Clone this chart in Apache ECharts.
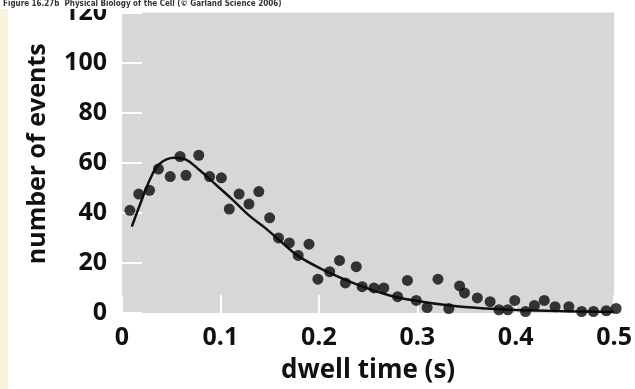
<!DOCTYPE html>
<html>
<head>
<meta charset="utf-8">
<script src="https://cdn.jsdelivr.net/npm/echarts@6/dist/echarts.min.js"></script>
<style>
  html, body { margin: 0; padding: 0; background: #ffffff; }
  #chart { width: 635px; height: 389px; }
</style>
</head>
<body>
<div id="chart"></div>
<script>
// Histogram of dwell times (bin centres, s) and counts per bin
const dwellTimes = [0.008, 0.017, 0.028, 0.037, 0.049, 0.059, 0.065, 0.078, 0.089, 0.101,
  0.109, 0.119, 0.129, 0.139, 0.150, 0.159, 0.170, 0.179, 0.190, 0.199,
  0.211, 0.221, 0.227, 0.238, 0.244, 0.256, 0.266, 0.280, 0.290, 0.299,
  0.310, 0.321, 0.332, 0.343, 0.348, 0.361, 0.374, 0.383, 0.392, 0.399,
  0.410, 0.419, 0.429, 0.440, 0.454, 0.467, 0.479, 0.492, 0.502];
const eventCounts = [41, 47.5, 49, 57.5, 54.5, 62.5, 55, 63, 54.5, 54,
  41.5, 47.5, 43.5, 48.5, 38, 30, 28, 23, 27.5, 13.5,
  16.5, 21, 12, 18.5, 10.5, 10, 10, 6.5, 13, 5,
  2.2, 13.5, 1.8, 10.8, 8, 6, 4.5, 1.3, 1.3, 5,
  0.6, 3, 5, 2.5, 2.5, 0.6, 0.6, 0.9, 1.8];

// Fitted curve through the histogram
const fitTimes = [0.010, 0.018, 0.028, 0.038, 0.053, 0.065, 0.079, 0.096, 0.113, 0.129,
  0.146, 0.160, 0.180, 0.211, 0.241, 0.272, 0.300, 0.333, 0.370, 0.400, 0.450, 0.500];
const fitCounts = [34.5, 43, 53, 59.5, 62, 61.2, 57, 51, 45, 39,
  33.8, 29, 22.5, 16, 11, 7, 4.8, 3, 1.8, 1.2, 0.7, 0.4];

const xTicks = [0, 0.1, 0.2, 0.3, 0.4, 0.5];
const yTicks = [0, 20, 40, 60, 80, 100, 120];

const pair = (xs, ys) => xs.map((x, i) => [x, ys[i]]);

const labelFont = { fontFamily: 'Open Sans', fontWeight: 'bold', fontSize: 25, color: '#111' };
const nameFont = { fontFamily: 'Open Sans', fontWeight: 'bold', fontSize: 25, color: '#111' };

const chart = echarts.init(document.getElementById('chart'), null, { renderer: 'canvas' });
chart.setOption({
  animation: false,
  backgroundColor: '#ffffff',
  grid: {
    left: 122, right: 18, top: 12, bottom: 75,
    show: true, backgroundColor: '#d7d7d7', borderWidth: 0
  },
  xAxis: {
    type: 'value',
    min: xTicks[0], max: xTicks[xTicks.length - 1], interval: 0.1,
    axisLine: { show: false },
    splitLine: { show: false },
    axisTick: { show: true, inside: true, length: 18, lineStyle: { color: '#ffffff', width: 2 } },
    axisLabel: Object.assign({ margin: 12, formatter: v => String(Math.round(v * 10) / 10) }, labelFont),
    name: 'dwell time (s)',
    nameLocation: 'middle',
    nameGap: 45,
    nameTextStyle: Object.assign({}, nameFont, { fontSize: 26 })
  },
  yAxis: {
    type: 'value',
    min: yTicks[0], max: yTicks[yTicks.length - 1], interval: 20,
    axisLine: { show: false },
    splitLine: { show: false },
    axisTick: { show: true, inside: true, length: 20, lineStyle: { color: '#ffffff', width: 2 } },
    axisLabel: Object.assign({ margin: 15 }, labelFont),
    name: 'number of events',
    nameLocation: 'middle',
    nameGap: 72,
    nameRotate: 90,
    nameTextStyle: Object.assign({ padding: [0, 0, 0, 18] }, nameFont)
  },
  series: [
    {
      type: 'line',
      data: pair(fitTimes, fitCounts),
      smooth: 0.4,
      showSymbol: false,
      lineStyle: { color: '#111', width: 2.5 },
      z: 2
    },
    {
      type: 'scatter',
      data: pair(dwellTimes, eventCounts),
      symbolSize: 11,
      clip: false,
      itemStyle: { color: '#0a0a0a' },
      z: 3
    }
  ],
  graphic: [
    { type: 'rect', left: 0, top: 9, shape: { width: 8, height: 380 }, style: { fill: '#f7f4dc' }, z: 0 },
    { type: 'rect', left: 0, top: 0, shape: { width: 635, height: 9 }, style: { fill: '#ffffff' }, z: 100 },
    {
      type: 'text', left: 3, top: 0, z: 101,
      style: {
        text: 'Figure 16.27b  Physical Biology of the Cell (\u00a9 Garland Science 2006)',
        fontFamily: 'DejaVu Sans Condensed', fontWeight: 'bold', fontSize: 8, fill: '#333'
      }
    }
  ]
});
</script>
</body>
</html>
